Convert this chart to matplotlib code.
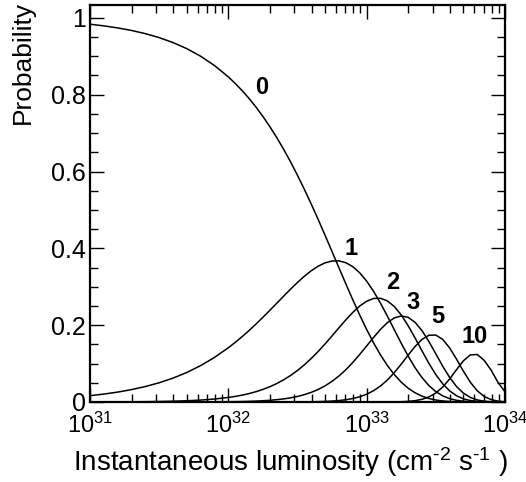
import numpy as np
import matplotlib
matplotlib.use("Agg")
import matplotlib.pyplot as plt
from matplotlib.ticker import MultipleLocator, LogLocator, NullFormatter

plt.rcParams["font.family"] = ["Liberation Sans", "DejaVu Sans"]
plt.rcParams["mathtext.fontset"] = "custom"
plt.rcParams["mathtext.rm"] = "Liberation Sans"
plt.rcParams["mathtext.it"] = "Liberation Sans:italic"
plt.rcParams["mathtext.bf"] = "Liberation Sans:bold"
plt.rcParams["mathtext.default"] = "regular"

# ── Data ─────────────────────────────────────────────────────────────────────
log_lumi = [31.0, 31.1, 31.2, 31.3, 31.4, 31.5, 31.6, 31.7, 31.8, 31.9,
            32.0, 32.05, 32.1, 32.15, 32.2, 32.25, 32.3, 32.35, 32.4, 32.45,
            32.5, 32.55, 32.6, 32.65, 32.7, 32.75, 32.8, 32.85, 32.9, 32.95,
            33.0, 33.05, 33.1, 33.15, 33.2, 33.25, 33.3, 33.35, 33.4, 33.45,
            33.5, 33.55, 33.6, 33.65, 33.7, 33.75, 33.8, 33.85, 33.9, 33.95,
            34.0]

p0 = [0.9835, 0.9792, 0.9739, 0.9673, 0.9590, 0.9487, 0.9358, 0.9199, 0.9002, 0.8760,
      0.8465, 0.8294, 0.8107, 0.7902, 0.7679, 0.7435, 0.7171, 0.6886, 0.6579, 0.6252,
      0.5903, 0.5536, 0.5150, 0.4750, 0.4337, 0.3917, 0.3494, 0.3073, 0.2661, 0.2264,
      0.1889, 0.1541, 0.1227, 0.0950, 0.0713, 0.0516, 0.0360, 0.0240, 0.0152, 0.0091,
      0.0051, 0.0027, 0.0013, 0.0006, 0.0002, 0.0001, 0.0, 0.0, 0.0, 0.0,
      0.0]
p1 = [0.0164, 0.0206, 0.0257, 0.0322, 0.0402, 0.0500, 0.0621, 0.0768, 0.0947, 0.1160,
      0.1411, 0.1551, 0.1701, 0.1860, 0.2028, 0.2204, 0.2385, 0.2569, 0.2754, 0.2937,
      0.3111, 0.3274, 0.3417, 0.3536, 0.3623, 0.3671, 0.3674, 0.3626, 0.3523, 0.3363,
      0.3148, 0.2882, 0.2574, 0.2236, 0.1882, 0.1530, 0.1196, 0.0894, 0.0636, 0.0428,
      0.0271, 0.0160, 0.0087, 0.0044, 0.0020, 0.0008, 0.0003, 0.0001, 0.0, 0.0,
      0.0]
p2 = [0.0001, 0.0002, 0.0003, 0.0005, 0.0008, 0.0013, 0.0021, 0.0032, 0.0050, 0.0077,
      0.0118, 0.0145, 0.0178, 0.0219, 0.0268, 0.0327, 0.0397, 0.0479, 0.0577, 0.0690,
      0.0820, 0.0968, 0.1134, 0.1316, 0.1513, 0.1720, 0.1932, 0.2139, 0.2332, 0.2498,
      0.2623, 0.2695, 0.2700, 0.2632, 0.2486, 0.2267, 0.1988, 0.1668, 0.1332, 0.1006,
      0.0714, 0.0473, 0.0289, 0.0162, 0.0082, 0.0037, 0.0015, 0.0005, 0.0002, 0.0,
      0.0]
p3 = [0.0, 0.0, 0.0, 0.0, 0.0, 0.0, 0.0, 0.0001, 0.0002, 0.0003,
      0.0007, 0.0009, 0.0012, 0.0017, 0.0024, 0.0032, 0.0044, 0.0060, 0.0080, 0.0108,
      0.0144, 0.0191, 0.0251, 0.0327, 0.0421, 0.0538, 0.0677, 0.0841, 0.1029, 0.1237,
      0.1458, 0.1680, 0.1889, 0.2065, 0.2189, 0.2240, 0.2204, 0.2075, 0.1859, 0.1575,
      0.1255, 0.0931, 0.0639, 0.0402, 0.0229, 0.0117, 0.0053, 0.0021, 0.0007, 0.0002,
      0.0001]
p5 = [0.0, 0.0, 0.0, 0.0, 0.0, 0.0, 0.0, 0.0, 0.0, 0.0,
      0.0, 0.0, 0.0, 0.0, 0.0, 0.0, 0.0, 0.0, 0.0001, 0.0001,
      0.0002, 0.0003, 0.0006, 0.0009, 0.0015, 0.0024, 0.0037, 0.0059, 0.0090, 0.0136,
      0.0202, 0.0294, 0.0416, 0.0572, 0.0764, 0.0984, 0.1219, 0.1444, 0.1629, 0.1738,
      0.1743, 0.1629, 0.1408, 0.1114, 0.0799, 0.0513, 0.0291, 0.0143, 0.0062, 0.0021,
      0.0006]
p10 = [0.0, 0.0, 0.0, 0.0, 0.0, 0.0, 0.0, 0.0, 0.0, 0.0,
       0.0, 0.0, 0.0, 0.0, 0.0, 0.0, 0.0, 0.0, 0.0, 0.0,
       0.0, 0.0, 0.0, 0.0, 0.0, 0.0, 0.0, 0.0, 0.0, 0.0,
       0.0, 0.0, 0.0001, 0.0001, 0.0003, 0.0007, 0.0016, 0.0035, 0.0069, 0.0131,
       0.0234, 0.0389, 0.0599, 0.0842, 0.1074, 0.1226, 0.1236, 0.1083, 0.0828, 0.0509,
       0.0265]

curves = [p0, p1, p2, p3, p5, p10]
labels = ["0", "1", "2", "3", "5", "10"]
label_log_x = [32.243, 32.884, 33.188, 33.335, 33.518, 33.783]
label_y = [0.818, 0.399, 0.312, 0.260, 0.222, 0.171]

lumi = 10.0 ** np.array(log_lumi)

fig = plt.figure(figsize=(5.26, 4.82), dpi=100)
ax = fig.add_axes([0.171, 0.166, 0.789, 0.824])

for vals in curves:
    ax.plot(lumi, vals, color="black", lw=1.1)

for lab, lx, ly in zip(labels, label_log_x, label_y):
    ax.text(10 ** lx, ly, lab, fontsize=17, fontweight="bold",
            ha="center", va="center")

ax.set_xscale("log")
ax.set_xlim(1e31, 1e34)
ax.set_ylim(0, 1.034)
ax.set_xticks([1e31, 1e32, 1e33, 1e34])
ax.set_xticklabels([r"$10^{31}$", r"$10^{32}$", r"$10^{33}$", r"$10^{34}$"])
ax.xaxis.set_minor_locator(LogLocator(base=10, subs=np.arange(2, 10)))
ax.xaxis.set_minor_formatter(NullFormatter())
ax.set_yticks([0, 0.2, 0.4, 0.6, 0.8, 1.0])
ax.set_yticklabels(["0", "0.2", "0.4", "0.6", "0.8", "1"])
ax.yaxis.set_minor_locator(MultipleLocator(0.05))

ax.tick_params(which="both", direction="in", top=True, right=True)
ax.tick_params(which="major", length=10, width=1.0)
ax.tick_params(which="minor", length=6, width=1.0)
ax.tick_params(axis="x", pad=8, labelsize=17)
ax.tick_params(axis="y", pad=3, labelsize=18)
for sp in ax.spines.values():
    sp.set_linewidth(1.6)

ax.set_xlabel(r"Instantaneous luminosity (cm$^{\text{-}2}$ s$^{\text{-}1}$ )", fontsize=20)
ax.xaxis.label.set_va("baseline")
ax.xaxis.set_label_coords(0.482, -0.174)
ax.set_ylabel("Probability", fontsize=19)
ax.yaxis.set_label_coords(-0.133, 0.855)

fig.savefig("out.png", dpi=100)
